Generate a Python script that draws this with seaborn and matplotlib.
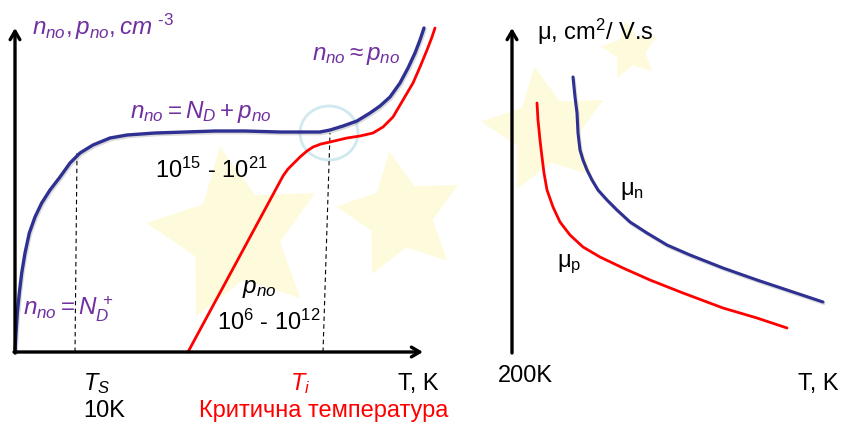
import matplotlib
matplotlib.use("Agg")
import matplotlib.pyplot as plt
import matplotlib.patheffects as pe
from matplotlib.patches import Ellipse
import seaborn as sns

# values, in picture units (origin = axis corner)
left_T_n = [0, 1, 2.3, 4.3, 6.7, 10, 14.3, 20, 26.7, 35, 45, 55, 65, 78, 95, 112, 140, 170,
            200, 230, 265, 285, 305, 315, 328, 342, 355, 365, 375, 385, 393, 400, 405, 409]
left_n = [0, 19, 39, 59, 79, 99, 119, 135, 149, 162, 175, 189, 199, 207, 214, 217, 219, 220,
          221, 221, 220, 220, 220, 222, 226, 231, 239, 246, 255, 269, 284, 299, 312, 324]
left_T_p = [173, 268, 273, 278, 285, 292, 298, 306, 315, 332, 345, 358, 368, 378, 388, 398,
            405, 412, 417, 420]
left_p = [0, 176, 183, 188, 195, 201, 205, 208, 210, 214, 216, 219, 225, 235, 252, 269, 285,
          302, 315, 324]

right_T_n = [61, 63, 65, 66, 68, 71, 75, 80, 86, 95, 105, 118, 135, 155, 178, 211, 245, 278,
             311]
right_mu_n = [275, 255, 239, 219, 202, 192, 182, 172, 162, 152, 142, 130, 119, 107, 97, 84,
              72, 61, 50]
right_T_p = [25, 26, 28, 30, 32, 35, 41, 48, 58, 71, 88, 111, 138, 171, 211, 245, 275]
right_mu_p = [249, 232, 212, 195, 179, 162, 145, 130, 117, 105, 95, 84, 72, 59, 44, 34, 24]

T_s = [60, 62]
T_s_n = [0, 199]
T_i = [308, 315]
T_i_n = [0, 219]

# background watermark stars (figure pixels): x, y, size
stars_x = [235, 400, 545, 630]
stars_y = [235, 215, 130, 50]
stars_size = [180, 130, 130, 60]

sns.set_style("white")
plt.rcParams["font.family"] = ["Liberation Sans", "DejaVu Sans"]
plt.rcParams["mathtext.fontset"] = "custom"
plt.rcParams["mathtext.rm"] = "Liberation Sans"
plt.rcParams["mathtext.it"] = "Liberation Sans:italic"
plt.rcParams["mathtext.bf"] = "Liberation Sans:bold"

W, H = 842, 422
fig = plt.figure(figsize=(8.42, 4.22), dpi=100)

# background layer for the stars
bg = fig.add_axes([0, 0, 1, 1])
bg.set_xlim(0, W)
bg.set_ylim(H, 0)
bg.axis("off")
for sx, sy, ss in zip(stars_x, stars_y, stars_size):
    bg.scatter(sx, sy, marker=(5, 1, 10), s=(ss * 0.72) ** 2, color="#fefbdc", lw=0, zorder=0)

purple = "#7030a0"
navy = "#2e3192"
red = "#ff0000"
shadow = [pe.SimpleLineShadow(offset=(0.8, -1.2), shadow_color="#888888", alpha=0.3),
          pe.Normal()]

# left panel: origin at pixel (15, 352)
ox = 15
axl = fig.add_axes([0, 0, 470 / W, 1])
axl.set_xlim(-ox, 470 - ox)
axl.set_ylim(-(H - 352), 352)
axl.axis("off")
axl.patch.set_alpha(0)

arrow = dict(arrowstyle="->,head_length=0.6,head_width=0.35", lw=2.4, color="black",
             shrinkA=0, shrinkB=0)
axl.annotate("", xy=(408, 0), xytext=(-1, 0), arrowprops=arrow)
axl.annotate("", xy=(0, 324), xytext=(0, -1), arrowprops=arrow)

axl.plot(T_s, T_s_n, ls=(0, (4, 3)), color="black", lw=0.8)
axl.plot(T_i, T_i_n, ls=(0, (4, 3)), color="black", lw=0.8)

sns.lineplot(x=left_T_p, y=left_p, ax=axl, color=red, lw=2.0, sort=False)
sns.lineplot(x=left_T_n, y=left_n, ax=axl, color=navy, lw=2.4, sort=False,
             path_effects=shadow)
axl.add_patch(Ellipse((314, 219), 58, 54, fill=False, ec="#cfe9ee", lw=2.0))

kw_p = dict(color=purple, fontsize=17.5, va="baseline", ha="left")
axl.text(17, 317, r"$n_{no}, p_{no}, cm^{\ \text{-}3}$", **kw_p)
axl.text(297, 292, r"$n_{no} \approx p_{no}$", **kw_p)
axl.text(115, 234, r"$n_{no} = N_D + p_{no}$", **kw_p)
axl.text(8, 37, r"$n_{no} = N_D^{\,+}$", **kw_p)

kw_b = dict(color="black", fontsize=17, va="baseline", ha="left")
axl.text(140, 174, r"10$^{15}$ - 10$^{21}$", **kw_b)
axl.text(227, 59, r"$p_{no}$", color="black", fontsize=17.5, va="baseline")
axl.text(202, 22, r"10$^{6}$ - 10$^{12}$", **kw_b)
axl.text(68, -38, r"$T_S$", **kw_b)
axl.text(68, -65, "10K", **kw_b)
axl.text(275, -38, r"$T_i$", color=red, fontsize=17, va="baseline")
axl.text(184, -65, "Критична температура", color=red, fontsize=17, va="baseline")
axl.text(383, -38, "T, K", **kw_b)

# right panel: origin at pixel (512, 352)
rx = 512
axr = fig.add_axes([470 / W, 0, (W - 470) / W, 1])
axr.set_xlim(470 - rx, W - rx)
axr.set_ylim(-(H - 352), 352)
axr.axis("off")
axr.patch.set_alpha(0)

axr.annotate("", xy=(338, 0), xytext=(-1, 0), arrowprops=arrow)
axr.annotate("", xy=(0, 324), xytext=(0, -1), arrowprops=arrow)

sns.lineplot(x=right_T_p, y=right_mu_p, ax=axr, color=red, lw=2.0, sort=False)
sns.lineplot(x=right_T_n, y=right_mu_n, ax=axr, color=navy, lw=2.2, sort=False,
             path_effects=shadow)

kw_r = dict(color="black", fontsize=17, va="baseline", ha="left")
axr.text(25, 312, r"μ, cm$^{\mathregular{2}}$/ V.s", **kw_r)
axr.text(108, 157, r"μ$_{\mathregular{n}}$", **kw_r)
axr.text(45, 85, r"μ$_{\mathregular{p}}$", **kw_r)
axr.text(-14, -30, "200K", **kw_r)
axr.text(286, -38, "T, K", **kw_r)

fig.savefig("out.png", dpi=100)
